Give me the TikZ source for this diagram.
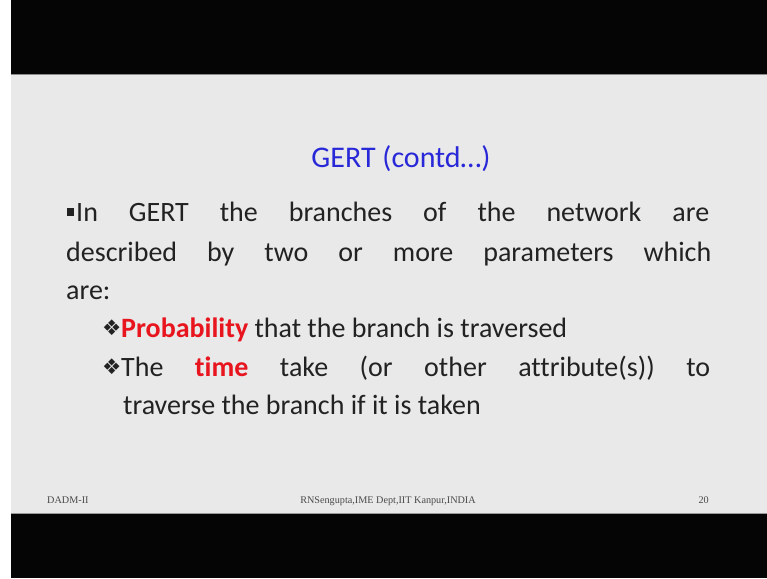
\documentclass[tikz,border=0pt]{standalone}
\usepackage{fontspec}
\setmainfont{Carlito}[Ligatures={NoCommon}]
\newfontfamily\footfont{Liberation Serif}
\newfontfamily\symfont{DejaVu Sans}
\definecolor{slidebg}{HTML}{E9E9E9}
\definecolor{bodytxt}{HTML}{222222}
\definecolor{titleblue}{HTML}{2828D8}
\definecolor{hired}{HTML}{E8141E}
\definecolor{foottxt}{HTML}{4A4A4A}
\tikzset{
  bodyline/.style={anchor=base west, inner sep=0pt, text=bodytxt, font=\fontsize{28}{33}\selectfont},
  footline/.style={anchor=base, inner sep=0pt, text=foottxt, font=\footfont\fontsize{10.2}{12}\selectfont},
  diam/.style={anchor=base west, inner sep=0pt, text=bodytxt, font=\symfont\fontsize{21.5}{24}\selectfont}
}
\begin{document}
\begin{tikzpicture}[x=1pt,y=-1pt]
\useasboundingbox (0,0) rectangle (767,578);
\fill[white] (0,0) rectangle (767,578);
\fill[black!98] (11,0) rectangle (767,74);
\fill[black!98] (11,514) rectangle (767,578);
\fill[slidebg] (11,74) rectangle (767,514);
\fill[black!45] (11,73.5) rectangle (767,75);
\fill[black!40] (11,512.5) rectangle (767,514);
% title
\node[anchor=base, inner sep=0pt, text=titleblue, font=\fontsize{30}{36}\selectfont] (title) at (401,167) {GERT (contd…)};
% main bullet
\node[fill=bodytxt, minimum size=7.5pt, inner sep=0pt] (sq) at (70.5,212) {};
\node[bodyline] (l1) at (76,221) {\makebox[633pt][s]{In GERT the branches of the network are}};
\node[bodyline] (l2) at (66,261) {\makebox[645pt][s]{described by two or more parameters which}};
\node[bodyline] (l3) at (66,299) {are:};
% sub bullets
\node[diam] (d1) at (102,335) {❖};
\node[bodyline] (s1) at (121,337) {\textcolor{hired}{\textbf{Probability}} that the branch is traversed};
\node[diam] (d2) at (102,374) {❖};
\node[bodyline] (s2) at (121,376) {\makebox[589pt][s]{The \textcolor{hired}{\textbf{time}} take (or other attribute(s)) to}};
\node[bodyline] (s3) at (123,414) {traverse the branch if it is taken};
% footer
\node[footline, anchor=base west] (fl) at (47,503) {DADM-II};
\node[footline] (fc) at (388,503) {RNSengupta,IME Dept,IIT Kanpur,INDIA};
\node[footline, anchor=base east] (fr) at (709,503) {20};
\end{tikzpicture}
\end{document}
